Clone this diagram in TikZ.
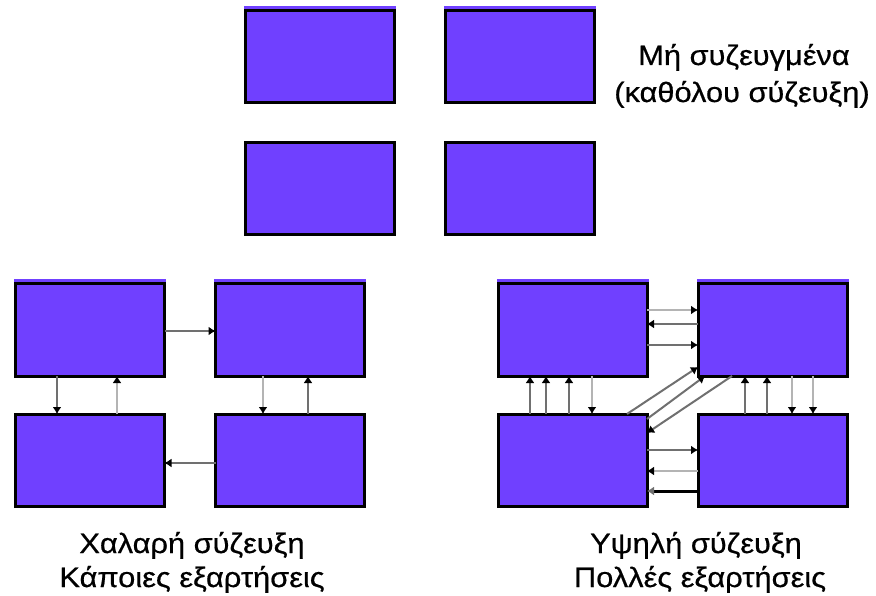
\documentclass[tikz,border=0pt]{standalone}
\usepackage{fontspec}
\setmainfont{Liberation Sans}
\newfontfamily\lblfont{Liberation Sans}[FakeStretch=1.1,FakeBold=0.6]
\usetikzlibrary{arrows.meta}
\definecolor{boxfill}{HTML}{7040FF}
\definecolor{dk}{HTML}{707070}
\definecolor{lt}{HTML}{B4B4B4}
\begin{document}
\begin{tikzpicture}[x=1pt,y=-1pt,
  box/.style={draw=black, line width=3pt, fill=boxfill, minimum width=149pt, minimum height=92pt, inner sep=0pt, outer sep=0pt},
  strip/.style={fill=boxfill},
  dkarr/.style={draw=dk, line width=2.6pt, -{Latex[length=7pt,width=9pt,color=black]}},
  ltarr/.style={draw=lt, line width=2.6pt, -{Latex[length=7pt,width=9pt,color=black]}},
  blkarr/.style={draw=black, line width=3pt, -{Latex[length=7pt,width=9pt,color=dk]}},
  lbl/.style={font=\lblfont\fontsize{28}{34}\selectfont, anchor=base, inner sep=0pt}]
\useasboundingbox (0,0) rectangle (876,596);
% top group
\node[box] (a) at (320,57) {};
\node[box] (b) at (520,57) {};
\node[box] (c) at (320,189) {};
\node[box] (d) at (520,189) {};
% left group
\node[box] (e) at (90,330) {};
\node[box] (f) at (290,330) {};
\node[box] (g) at (90,460) {};
\node[box] (h) at (290,460) {};
% right group
\node[box] (i) at (572.5,330) {};
\node[box] (j) at (772.5,330) {};
\node[box] (k) at (572.5,460) {};
\node[box] (l) at (772.5,460) {};
% strips
\foreach \n in {a,b,e,f,i,j}
  \fill[strip] ([xshift=-1.5pt,yshift=1.5pt]\n.north west) rectangle ([xshift=1.5pt,yshift=4.5pt]\n.north east);
% left group arrows
\draw[dkarr] ([yshift=-1pt]e.east) -- ([yshift=-1pt]f.west);
\draw[dkarr] ([xshift=41.5pt]e.south west) -- ([xshift=41.5pt]g.north west);
\draw[ltarr] ([xshift=101.5pt]g.north west) -- ([xshift=101.5pt]e.south west);
\draw[ltarr] ([xshift=47.5pt]f.south west) -- ([xshift=47.5pt]h.north west);
\draw[dkarr] ([xshift=92.5pt]h.north west) -- ([xshift=92.5pt]f.south west);
\draw[dkarr] ([yshift=-3pt]h.west) -- ([yshift=-3pt]g.east);
% right group arrows
\draw[ltarr] ([yshift=20pt]i.east) -- ([yshift=20pt]j.west);
\draw[dkarr] ([yshift=6pt]j.west) -- ([yshift=6pt]i.east);
\draw[dkarr] ([yshift=-15pt]i.east) -- ([yshift=-15pt]j.west);
\foreach \s in {32,48,71}
  \draw[dkarr] ([xshift=\s pt]k.north west) -- ([xshift=\s pt]i.south west);
\draw[ltarr] ([xshift=94pt]i.south west) -- ([xshift=94pt]k.north west);
\foreach \s in {47,69}
  \draw[dkarr] ([xshift=\s pt]l.north west) -- ([xshift=\s pt]j.south west);
\foreach \s in {94,115}
  \draw[ltarr] ([xshift=\s pt]j.south west) -- ([xshift=\s pt]l.north west);
\draw[dkarr, line width=2pt] ([xshift=129pt]k.north west) -- ([yshift=9pt]j.south west);
\draw[dkarr, line width=2pt] ([yshift=-5pt]k.north east) -- ([xshift=7pt]j.south west);
\draw[dkarr, line width=2pt] ([xshift=34pt]j.south west) -- ([yshift=-19pt]k.north east);
\draw[dkarr] ([yshift=10pt]k.east) -- ([yshift=10pt]l.west);
\draw[ltarr] ([yshift=-11pt]l.west) -- ([yshift=-11pt]k.east);
\draw[blkarr] ([yshift=-31pt]l.west) -- ([yshift=-31pt]k.east);
% labels
\node[lbl] (t1) at (744,65) {Μή συζευγμένα};
\node[lbl] (t2) at (742,102) {(καθόλου σύζευξη)};
\node[lbl] (l1) at (192,553) {Χαλαρή σύζευξη};
\node[lbl] (l2) at (192,587) {Κάποιες εξαρτήσεις};
\node[lbl] (r1) at (696,553) {Υψηλή σύζευξη};
\node[lbl] (r2) at (700,587) {Πολλές εξαρτήσεις};
\end{tikzpicture}
\end{document}
